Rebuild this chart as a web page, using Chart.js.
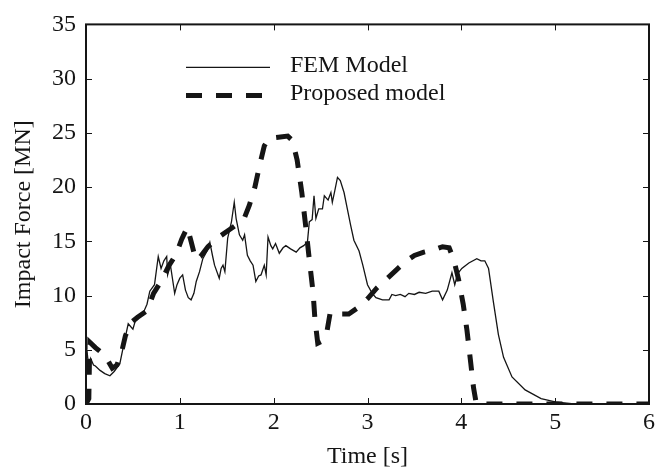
<!DOCTYPE html>
<html>
<head>
<meta charset="utf-8">
<script src="https://cdn.jsdelivr.net/npm/chart.js@4.4.0/dist/chart.umd.min.js"></script>
<style>
  html, body { margin: 0; padding: 0; background: #fff; }
  #wrap { width: 659px; height: 469px; }
</style>
</head>
<body>
<div id="wrap"><canvas id="impactChart" width="659" height="469"></canvas></div>
<script>
// FEM model (time in s, force in MN)
const femTime = [
  0.0, 0.01, 0.03, 0.05, 0.08, 0.1, 0.15, 0.2, 0.255, 0.3, 0.36, 0.41, 0.45, 0.5, 0.54, 0.61,
  0.65, 0.68, 0.73, 0.77, 0.8, 0.83, 0.86, 0.87, 0.9, 0.945, 0.97, 1.0, 1.03, 1.06, 1.09, 1.12,
  1.15, 1.175, 1.21, 1.245, 1.29, 1.32, 1.35, 1.37, 1.42, 1.44, 1.46, 1.48, 1.51, 1.55, 1.58, 1.6,
  1.635, 1.67, 1.69, 1.72, 1.75, 1.78, 1.81, 1.84, 1.865, 1.9, 1.92, 1.94, 1.97, 1.99, 2.02, 2.06,
  2.1, 2.13, 2.18, 2.24, 2.28, 2.32, 2.36, 2.38, 2.41, 2.43, 2.45, 2.48, 2.52, 2.54, 2.58, 2.61,
  2.625, 2.65, 2.68, 2.71, 2.75, 2.785, 2.82, 2.855, 2.91, 2.95, 3.0, 3.05, 3.09, 3.16, 3.23, 3.26,
  3.3, 3.35, 3.4, 3.44, 3.5, 3.55, 3.62, 3.69, 3.76, 3.8, 3.85, 3.9, 3.93, 3.96, 4.005, 4.08,
  4.165, 4.21, 4.25, 4.29, 4.34, 4.395, 4.45, 4.54, 4.68, 4.85, 5.0, 5.2, 6.0
];
const femForce = [
  5.5, 5.0, 3.2, 4.2, 3.6, 3.5, 3.1, 2.8, 2.6, 3.0, 3.7, 5.8, 7.4, 6.9, 8.1, 8.4,
  9.2, 10.4, 11.0, 13.6, 12.5, 13.2, 13.6, 11.9, 12.8, 10.2, 11.0, 11.6, 11.9, 10.5, 9.8, 9.6,
  10.2, 11.3, 12.2, 13.4, 14.1, 14.9, 13.6, 12.8, 11.6, 12.5, 12.8, 12.2, 15.3, 16.8, 18.6, 17.1,
  15.6, 15.1, 15.6, 13.7, 13.2, 12.8, 11.3, 11.8, 11.9, 12.8, 11.9, 15.4, 14.6, 14.3, 14.8, 13.9,
  14.4, 14.6, 14.3, 14.0, 14.4, 14.6, 14.95, 16.8, 17.0, 19.2, 17.1, 18.0, 18.0, 19.2, 18.8, 19.5,
  18.6, 19.6, 20.9, 20.6, 19.5, 18.0, 16.5, 15.1, 14.1, 12.8, 11.0, 10.2, 9.8, 9.6, 9.6, 10.1,
  10.0, 10.1, 9.9, 10.2, 10.1, 10.3, 10.2, 10.4, 10.4, 9.6, 10.5, 12.1, 11.0, 12.0, 12.5, 13.0,
  13.4, 13.2, 13.2, 12.5, 9.5, 6.4, 4.3, 2.5, 1.3, 0.5, 0.2, 0.0, 0.0
];

// Proposed model
const propTime = [
  0.0, 0.03, 0.04, 0.1, 0.2, 0.28, 0.33, 0.38, 0.42, 0.48, 0.55, 0.65, 0.72, 0.8, 0.88, 0.96,
  1.02, 1.08, 1.12, 1.17, 1.22, 1.3, 1.4, 1.5, 1.6, 1.69, 1.74, 1.8, 1.85, 1.9, 1.95, 2.05,
  2.15, 2.2, 2.25, 2.3, 2.34, 2.38, 2.42, 2.44, 2.47, 2.52, 2.57, 2.6, 2.66, 2.73, 2.8, 2.9,
  3.0, 3.1, 3.2, 3.3, 3.4, 3.5, 3.6, 3.7, 3.8, 3.87, 3.92, 3.97, 4.02, 4.06, 4.1, 4.13,
  4.16, 6.0
];
const propForce = [
  0.0, 0.5, 5.7, 5.2, 4.5, 3.3, 3.6, 4.8, 6.3, 7.5, 8.0, 8.6, 10.2, 11.3, 12.7, 13.8,
  15.2, 16.3, 15.0, 13.3, 13.6, 14.5, 15.3, 15.9, 16.5, 17.2, 18.3, 20.0, 22.0, 23.8, 24.5, 24.6,
  24.7, 24.3, 22.5, 19.5, 16.5, 13.3, 10.3, 7.8, 5.6, 5.8, 6.8, 8.3, 8.6, 8.3, 8.3, 8.9,
  9.7, 10.7, 11.5, 12.3, 13.1, 13.7, 14.0, 14.2, 14.5, 14.4, 13.3, 11.5, 9.2, 6.8, 3.8, 1.5,
  0.0, 0.0
];

const seriesNames = ["FEM Model", "Proposed model"];
const xTicks = [0, 1, 2, 3, 4, 5, 6];
const yTicks = [0, 5, 10, 15, 20, 25, 30, 35];

const serif = "'Liberation Serif', 'DejaVu Serif', serif";
const ink = "#151515";

const toPoints = (xs, ys) => xs.map((x, i) => ({ x: x, y: ys[i] }));

// box round the plot, with matlab style ticks pointing inward
const frameAndLegend = {
  id: "frameAndLegend",
  afterDatasetsDraw(chart) {
    const { ctx, chartArea: a, scales } = chart;
    ctx.save();
    ctx.strokeStyle = ink;
    ctx.lineWidth = 1;
    ctx.beginPath();
    xTicks.forEach((v) => {
      const px = Math.round(scales.x.getPixelForValue(v)) + 0.5;
      ctx.moveTo(px, a.bottom); ctx.lineTo(px, a.bottom - 6);
      ctx.moveTo(px, a.top); ctx.lineTo(px, a.top + 6);
    });
    yTicks.forEach((v) => {
      const py = Math.round(scales.y.getPixelForValue(v)) + 0.5;
      ctx.moveTo(a.left, py); ctx.lineTo(a.left + 6, py);
      ctx.moveTo(a.right, py); ctx.lineTo(a.right - 6, py);
    });
    ctx.stroke();
    ctx.lineWidth = 2;
    ctx.strokeRect(a.left, a.top, a.right - a.left, a.bottom - a.top);

    // legend
    const lx0 = a.left + 100, lx1 = a.left + 184, tx = a.left + 204;
    const rows = [a.top + 43, a.top + 71];
    chart.data.datasets.forEach((ds, i) => {
      ctx.beginPath();
      ctx.setLineDash(ds.borderDash || []);
      ctx.lineWidth = ds.borderWidth;
      ctx.strokeStyle = ds.borderColor;
      ctx.moveTo(lx0, rows[i]);
      ctx.lineTo(lx1, rows[i]);
      ctx.stroke();
      ctx.setLineDash([]);
      ctx.fillStyle = ink;
      ctx.font = "24px " + serif;
      ctx.textBaseline = "middle";
      ctx.textAlign = "left";
      ctx.fillText(ds.label, tx, rows[i] - 2);
    });
    ctx.restore();
  }
};

const ctx = document.getElementById("impactChart").getContext("2d");
const myChart = new Chart(ctx, {
  type: "scatter",
  data: {
    datasets: [
      {
        label: seriesNames[0],
        data: toPoints(femTime, femForce),
        showLine: true,
        borderColor: ink,
        borderWidth: 1.3,
        pointRadius: 0,
        tension: 0
      },
      {
        label: seriesNames[1],
        data: toPoints(propTime, propForce),
        showLine: true,
        borderColor: ink,
        borderWidth: 5,
        borderDash: [16, 14],
        pointRadius: 0,
        tension: 0
      }
    ]
  },
  options: {
    responsive: false,
    animation: false,
    layout: { padding: { top: 20, right: 8, left: 0, bottom: 0 } },
    plugins: { legend: { display: false }, tooltip: { enabled: false } },
    scales: {
      x: {
        type: "linear",
        min: 0,
        max: 6,
        afterFit: (s) => { s.height = 65; },
        afterBuildTicks: (s) => { s.ticks = xTicks.map((v) => ({ value: v })); },
        grid: { display: false, drawTicks: false },
        border: { display: false },
        ticks: { color: ink, padding: 4, font: { family: serif, size: 24 } },
        title: {
          display: true,
          text: "Time [s]",
          color: ink,
          font: { family: serif, size: 24, lineHeight: 1 },
          padding: { top: 0, bottom: 0 }
        }
      },
      y: {
        type: "linear",
        min: 0,
        max: 35,
        afterFit: (s) => { s.width = 86; },
        afterBuildTicks: (s) => { s.ticks = yTicks.map((v) => ({ value: v })); },
        grid: { display: false, drawTicks: false },
        border: { display: false },
        ticks: { color: ink, padding: 10, font: { family: serif, size: 24 } },
        title: {
          display: true,
          text: "Impact Force [MN]",
          color: ink,
          font: { family: serif, size: 24, lineHeight: 1 },
          padding: { top: 12, bottom: 0 }
        }
      }
    }
  },
  plugins: [frameAndLegend]
});
</script>
</body>
</html>
